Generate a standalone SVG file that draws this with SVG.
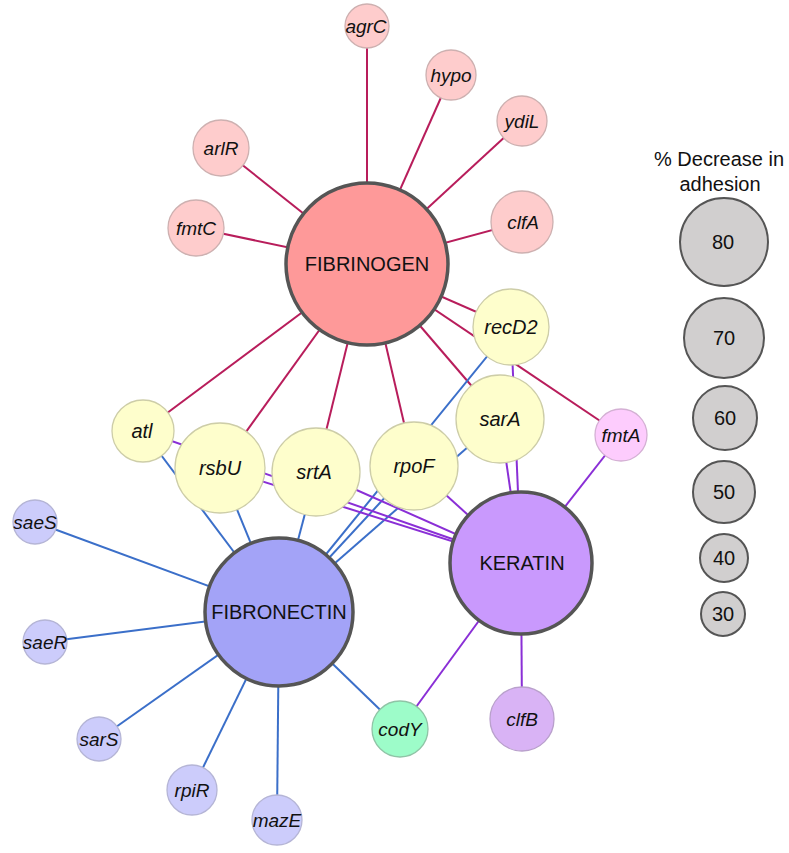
<svg xmlns="http://www.w3.org/2000/svg" width="789" height="853" viewBox="0 0 789 853">
<style>
.e{stroke-width:2;fill:none}
.r{stroke:#b81d5b}
.b{stroke:#3b6fc9}
.p{stroke:#8a2fd6}
.big{stroke:#555;stroke-width:3.5}
.sm{stroke-width:1.3}
.pk{fill:#fecccc;stroke:#cdb0b0}
.yl{fill:#fefecc;stroke:#cdcda8}
.bl{fill:#ccccfb;stroke:#b5b5d6}
.lg{fill:#d1cfcf;stroke:#555;stroke-width:2}
text{font-family:"Liberation Sans",Arial,sans-serif;fill:#111;text-anchor:middle}
.it{font-style:italic;font-size:19px}
.iy{font-style:italic;font-size:20px}
.bt{font-size:20px}
.lt{font-size:20px}
</style>
<rect width="789" height="853" fill="#fff"/>
<g id="connectors">
<g class="e r">
<line x1="367" y1="264" x2="367" y2="26"/>
<line x1="367" y1="264" x2="451" y2="75"/>
<line x1="367" y1="264" x2="522" y2="121"/>
<line x1="367" y1="264" x2="522" y2="222"/>
<line x1="367" y1="264" x2="221" y2="148"/>
<line x1="367" y1="264" x2="196" y2="228"/>
<line x1="367" y1="264" x2="143" y2="431"/>
<line x1="367" y1="264" x2="220" y2="468"/>
<line x1="367" y1="264" x2="316" y2="472"/>
<line x1="367" y1="264" x2="414" y2="466"/>
<line x1="367" y1="264" x2="500" y2="419"/>
<line x1="367" y1="264" x2="511" y2="327"/>
<line x1="367" y1="264" x2="621" y2="435"/>
</g>
<g class="e b">
<line x1="279" y1="612" x2="35" y2="522"/>
<line x1="279" y1="612" x2="45" y2="642"/>
<line x1="279" y1="612" x2="99" y2="739"/>
<line x1="279" y1="612" x2="192" y2="790"/>
<line x1="279" y1="612" x2="277" y2="820"/>
<line x1="279" y1="612" x2="400" y2="729"/>
<line x1="279" y1="612" x2="143" y2="431"/>
<line x1="279" y1="612" x2="220" y2="468"/>
<line x1="279" y1="612" x2="316" y2="472"/>
<line x1="279" y1="612" x2="414" y2="466"/>
<line x1="279" y1="612" x2="500" y2="419"/>
<line x1="279" y1="612" x2="511" y2="327"/>
</g>
<g class="e p">
<line x1="521" y1="563" x2="621" y2="435"/>
<line x1="521" y1="563" x2="522" y2="719"/>
<line x1="521" y1="563" x2="400" y2="729"/>
<line x1="521" y1="563" x2="143" y2="431"/>
<line x1="521" y1="563" x2="220" y2="468"/>
<line x1="521" y1="563" x2="316" y2="472"/>
<line x1="521" y1="563" x2="414" y2="466"/>
<line x1="521" y1="563" x2="500" y2="419"/>
<line x1="521" y1="563" x2="511" y2="327"/>
</g>
</g>
<g id="FIBRINOGEN"><circle cx="367" cy="264" r="81" fill="#fe9999" class="big"/><text x="367" y="271" class="bt">FIBRINOGEN</text></g>
<g id="FIBRONECTIN"><circle cx="279" cy="612" r="74" fill="#a3a3f7" class="big"/><text x="279" y="619" class="bt">FIBRONECTIN</text></g>
<g id="KERATIN"><circle cx="521" cy="563" r="71" fill="#c999fd" class="big"/><text x="522" y="570" class="bt">KERATIN</text></g>

<g id="agrC"><circle cx="367" cy="26" r="22" class="pk sm"/><text x="366" y="33" class="it">agrC</text></g>
<g id="hypo"><circle cx="451" cy="75" r="25" class="pk sm"/><text x="451" y="82" class="it">hypo</text></g>
<g id="ydiL"><circle cx="522" cy="121" r="25" class="pk sm"/><text x="522" y="128" class="it">ydiL</text></g>
<g id="clfA"><circle cx="522" cy="222" r="31" class="pk sm"/><text x="523" y="229" class="it">clfA</text></g>
<g id="arlR"><circle cx="221" cy="148" r="28" class="pk sm"/><text x="221" y="155" class="it">arlR</text></g>
<g id="fmtC"><circle cx="196" cy="228" r="28" class="pk sm"/><text x="196" y="235" class="it">fmtC</text></g>

<g id="recD2"><circle cx="511" cy="327" r="38" class="yl sm"/><text x="511" y="334" class="iy">recD2</text></g>
<g id="sarA"><circle cx="500" cy="419" r="44" class="yl sm"/><text x="500" y="426" class="iy">sarA</text></g>
<g id="rpoF"><circle cx="414" cy="466" r="44" class="yl sm"/><text x="414" y="473" class="iy">rpoF</text></g>
<g id="srtA"><circle cx="316" cy="472" r="44" class="yl sm"/><text x="314" y="479" class="iy">srtA</text></g>
<g id="rsbU"><circle cx="220" cy="468" r="45" class="yl sm"/><text x="220" y="475" class="iy">rsbU</text></g>
<g id="atl"><circle cx="143" cy="431" r="31" class="yl sm"/><text x="142" y="438" class="iy">atl</text></g>
<g id="fmtA"><circle cx="621" cy="435" r="26" fill="#fdccfd" stroke="#d4b0d4" class="sm"/><text x="621" y="442" class="it">fmtA</text></g>

<g id="saeS"><circle cx="35" cy="522" r="22" class="bl sm"/><text x="35" y="529" class="it">saeS</text></g>
<g id="saeR"><circle cx="45" cy="642" r="22" class="bl sm"/><text x="45" y="649" class="it">saeR</text></g>
<g id="sarS"><circle cx="99" cy="739" r="22" class="bl sm"/><text x="99" y="746" class="it">sarS</text></g>
<g id="rpiR"><circle cx="192" cy="790" r="25" class="bl sm"/><text x="192" y="797" class="it">rpiR</text></g>
<g id="mazE"><circle cx="277" cy="820" r="25" class="bl sm"/><text x="277" y="827" class="it">mazE</text></g>
<g id="codY"><circle cx="400" cy="729" r="28" fill="#9dfcc9" stroke="#8fc4a6" class="sm"/><text x="400" y="736" class="it">codY</text></g>
<g id="clfB"><circle cx="522" cy="719" r="32" fill="#d9b3f5" stroke="#b9a0cc" class="sm"/><text x="522" y="726" class="it">clfB</text></g>

<g id="legend">
<text x="719" y="166" class="lt">% Decrease in</text>
<text x="720" y="191" class="lt">adhesion</text>
<circle cx="724" cy="242" r="44" class="lg"/><text x="723" y="249" class="lt">80</text>
<circle cx="724" cy="338" r="40" class="lg"/><text x="724" y="345" class="lt">70</text>
<circle cx="725" cy="418" r="32" class="lg"/><text x="725" y="425" class="lt">60</text>
<circle cx="724" cy="492" r="31" class="lg"/><text x="724" y="499" class="lt">50</text>
<circle cx="724" cy="558" r="24" class="lg"/><text x="724" y="565" class="lt">40</text>
<circle cx="723" cy="614" r="22" class="lg"/><text x="723" y="621" class="lt">30</text>
</g>
</svg>
